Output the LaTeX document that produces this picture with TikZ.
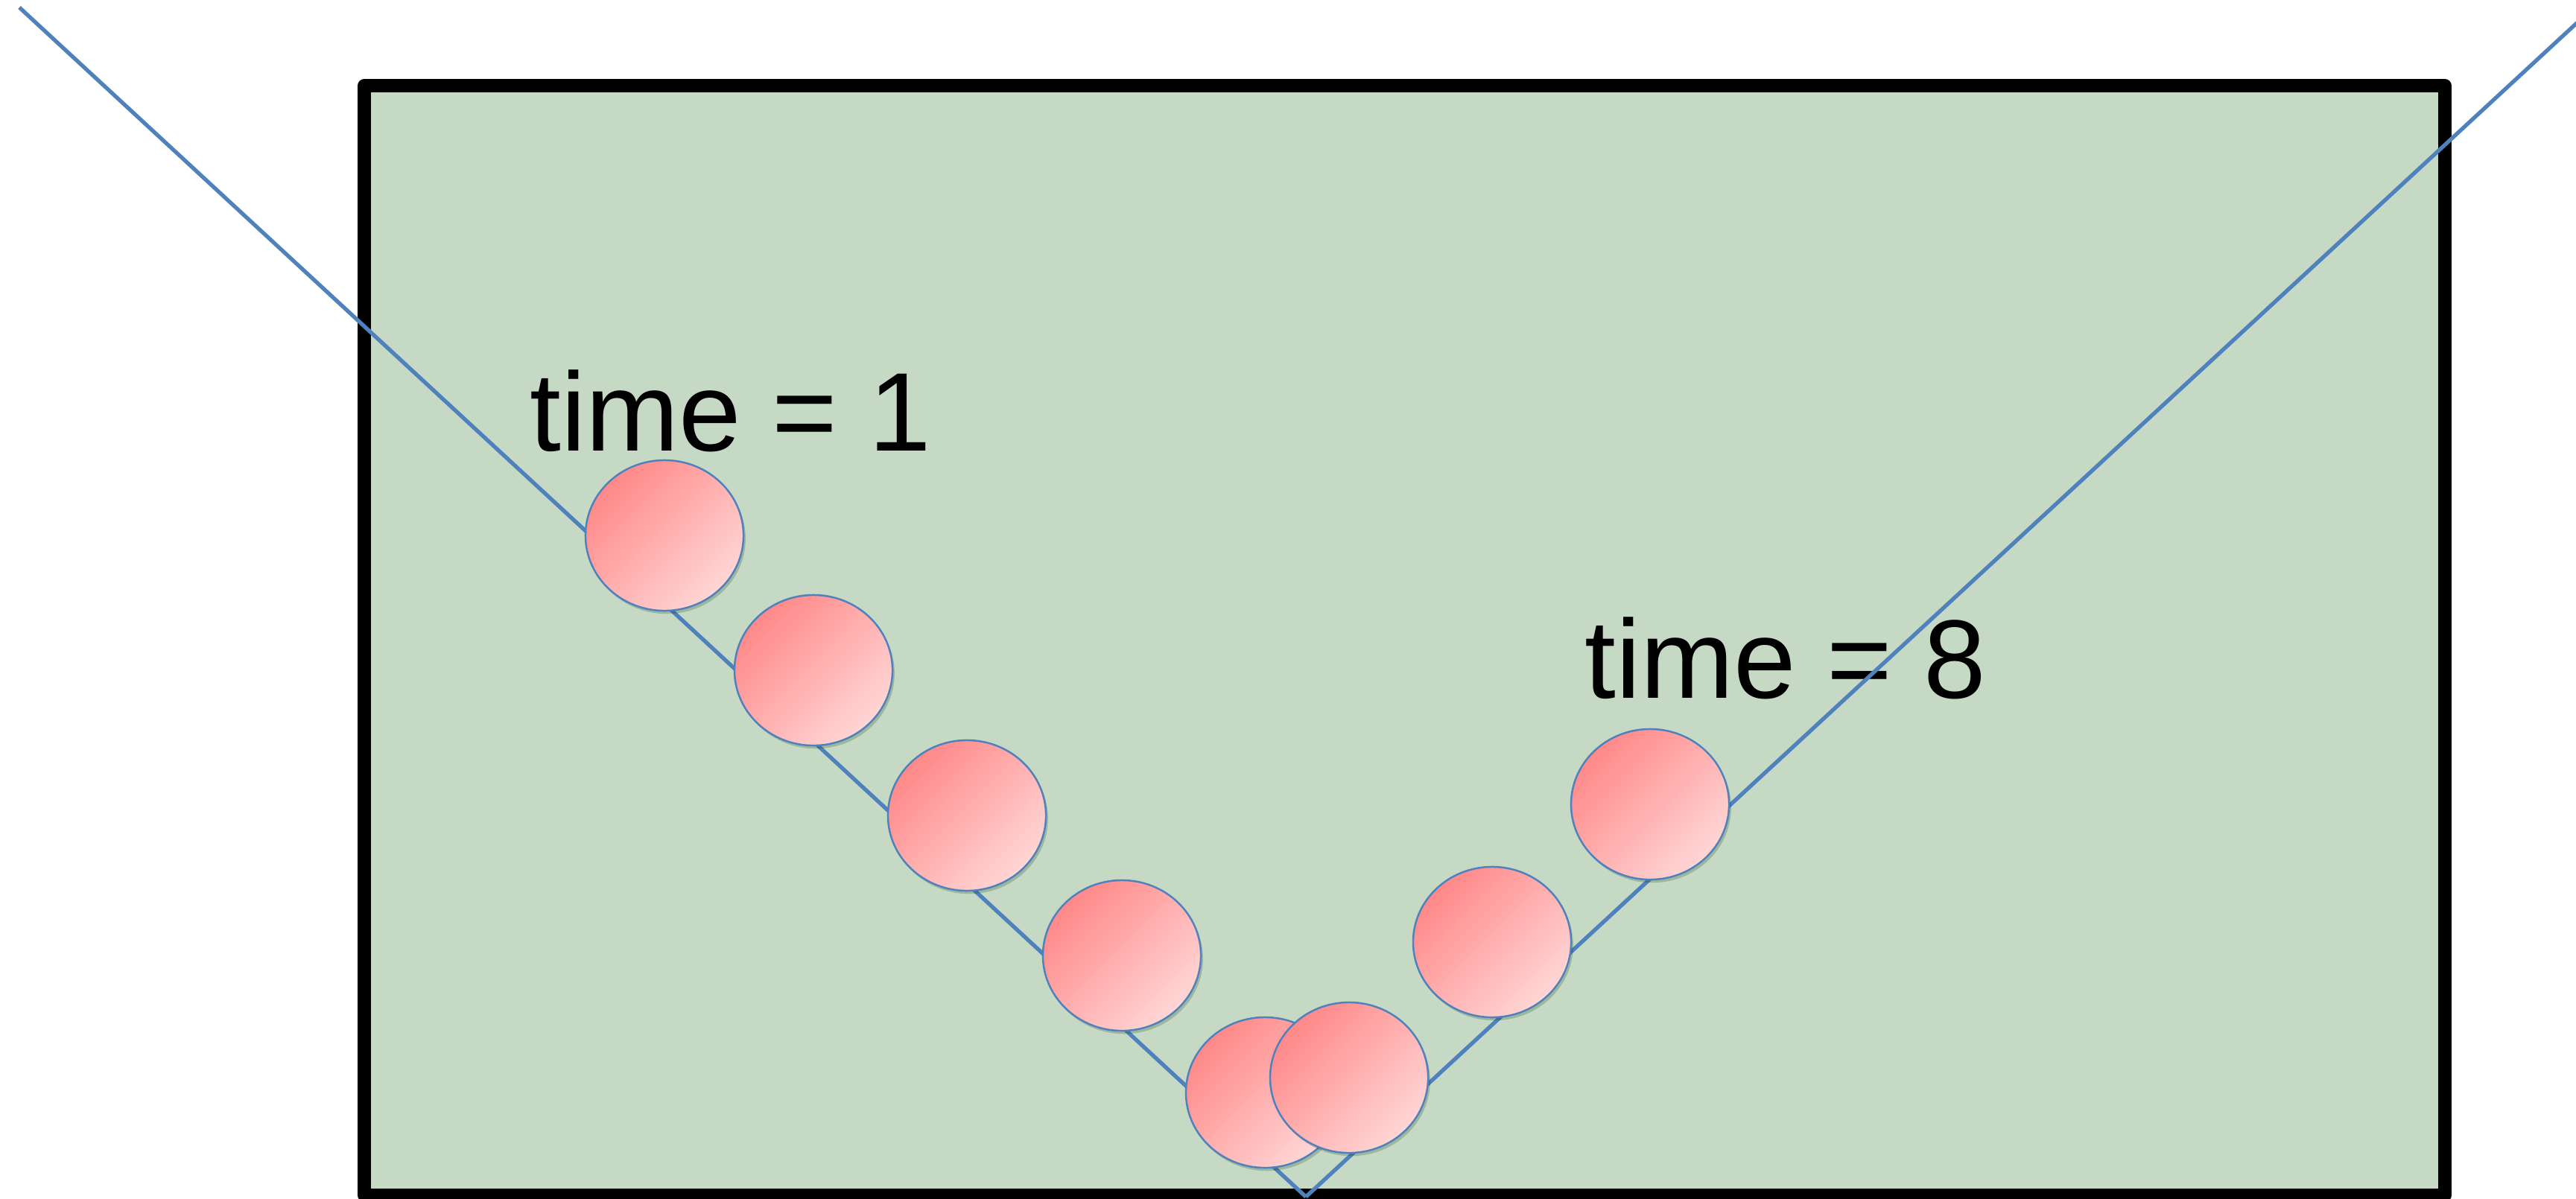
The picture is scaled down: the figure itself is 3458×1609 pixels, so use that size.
\documentclass[tikz,border=0pt]{standalone}
\usepackage{fontspec}
\newfontfamily\lblfont{Liberation Sans}
\usetikzlibrary{shapes.geometric,shadows}
\definecolor{boxgreen}{RGB}{197,217,197}
\definecolor{trackblue}{RGB}{79,129,189}
\definecolor{balldark}{RGB}{255,136,136}
\definecolor{balllight}{RGB}{255,214,214}

\begin{document}
\begin{tikzpicture}[x=0.01cm,y=-0.01cm,
  ball/.style={ellipse,draw=trackblue,line width=0.7pt,minimum width=2.12cm,minimum height=2.02cm,
    top color=balldark,bottom color=balllight,shading angle=45,
    drop shadow={shadow xshift=0.8pt,shadow yshift=-1.2pt,opacity=0.2,fill=black!80!green}},
  track/.style={trackblue,line width=1.5pt},
  lbl/.style={font=\lblfont\fontsize{42.7}{50}\selectfont,inner sep=0pt,anchor=base west}]
  \useasboundingbox (0,0) rectangle (3458,1609);
  \clip (0,0) rectangle (3458,1609);
  % box
  \draw [fill=boxgreen,line width=5pt,line join=round] (489,115) rectangle (3282,1605);
  \node [lbl] (t1) at (711,605) {time = 1};
  \node [lbl] (t8) at (2127,937) {time = 8};
  % the track
  \coordinate (tl) at (26,10);
  \coordinate (bot) at (1753,1607);
  \coordinate (tr) at (3460,30);
  \draw [track] (tl) -- (bot);
  \draw [track] (bot) -- (tr);
  % balls
  \node [ball] (b1) at (892,719) {};
  \node [ball] (b2) at (1092,900) {};
  \node [ball] (b3) at (1298,1095) {};
  \node [ball] (b4) at (1506,1283) {};
  \node [ball] (b5) at (1698,1467) {};
  \node [ball] (b6) at (1811,1447) {};
  \node [ball] (b7) at (2003,1265) {};
  \node [ball] (b8) at (2215,1080) {};
\end{tikzpicture}
\end{document}
